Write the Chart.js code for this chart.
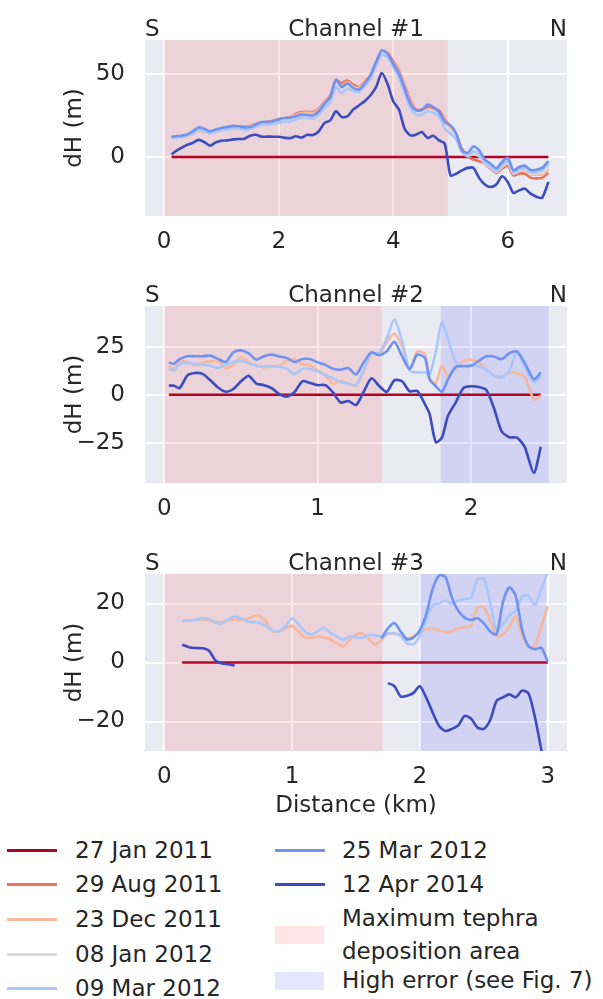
<!DOCTYPE html>
<html>
<head>
<meta charset="utf-8">
<script src="https://cdn.jsdelivr.net/npm/chart.js@4.4.1/dist/chart.umd.min.js"></script>
<style>
  body { margin: 0; background: #fff; width: 603px; height: 999px; overflow: hidden; position: relative;
         font-family: 'DejaVu Sans', sans-serif; color: #262626; }
  .panel { position: absolute; left: 0; }
  .lg-text { position: absolute; font-size: 23px; line-height: 33px; white-space: nowrap; }
  .lg-line { position: absolute; height: 3px; width: 50px; }
  .lg-patch { position: absolute; height: 18px; width: 49px; }
</style>
</head>
<body>
<canvas class="panel" id="ch1" width="603" height="260" style="top:0px"></canvas>
<canvas class="panel" id="ch2" width="603" height="261" style="top:266px"></canvas>
<canvas class="panel" id="ch3" width="603" height="300" style="top:534px"></canvas>
<div id="legend"></div>
<script>
const labels = ['27 Jan 2011', '29 Aug 2011', '23 Dec 2011', '08 Jan 2012', '09 Mar 2012', '25 Mar 2012', '12 Apr 2014'];
const colors = ['#b40426', '#e7745b', '#f7b89c', '#dddcdc', '#aac7fd', '#6f92f3', '#3b4cc0'];

// Channel #1 (distance in km, dH in m)
const distCh1 = [0.13, 0.2, 0.3, 0.4, 0.5, 0.6, 0.7, 0.8, 0.9, 1.0,
  1.1, 1.2, 1.3, 1.4, 1.5, 1.6, 1.7, 1.8, 1.9, 2.0,
  2.1, 2.2, 2.3, 2.4, 2.5, 2.6, 2.7, 2.8, 2.9, 3.0,
  3.1, 3.2, 3.3, 3.4, 3.5, 3.6, 3.7, 3.8, 3.9, 4.0,
  4.1, 4.2, 4.3, 4.4, 4.5, 4.6, 4.7, 4.8, 4.9, 5.0,
  5.1, 5.2, 5.3, 5.4, 5.5, 5.6, 5.7, 5.8, 5.9, 6.0,
  6.1, 6.2, 6.3, 6.4, 6.5, 6.6, 6.71];
const refDistCh1 = [0.13, 6.71];
const refCh1 = [0, 0];
const aug2011Ch1 = [11.8, 12.2, 12.5, 12.8, 14, 15.8, 15.3, 15, 15.8, 16.8,
  17.3, 18, 18.3, 18.3, 18.8, 19.8, 20.8, 21.2, 21.8, 22.8,
  23.3, 24, 26, 27, 27.2, 27, 29, 33, 37, 46,
  44.5, 46, 43.5, 42, 45, 49, 56.5, 63.5, 62.5, 57.5,
  51.5, 43, 34, 28.5, 28.5, 30, 29.5, 28, 22.5, 18.5,
  13.5, 5, 0.5, -1.5, -2.5, -4, -7, -9.5, -7, -5.5,
  -11, -10, -10, -12.5, -12.8, -12.5, -9.5];
const dec2011Ch1 = [11.5, 12, 12.3, 12.6, 13.5, 15.3, 15, 14.8, 15.5, 16.5,
  17, 17.8, 18, 18, 18.5, 19.5, 20.5, 21, 21.5, 22.5,
  23, 23.5, 25.5, 26.5, 26.8, 26.5, 28.5, 32.5, 36.5, 45.5,
  43, 45, 42.5, 41.5, 44.5, 48.5, 56, 63, 61.5, 56.5,
  50.5, 42, 33, 27.5, 27, 28.5, 28, 26.5, 21.5, 17.5,
  12.5, 4, 1, 1.5, 0.5, -4, -6.5, -9, -6, -4,
  -10, -8.5, -8, -10.5, -10.5, -10.5, -7];
const jan2012Ch1 = [11.4, 11.9, 12.2, 12.7, 14, 15.8, 15.3, 14.5, 15.3, 16.3,
  16.8, 17.5, 17.5, 17.3, 17.7, 19, 20, 20.3, 20.8, 21.7,
  22.3, 22.5, 24.2, 25.3, 25.5, 25, 27, 31, 35, 44,
  41, 43, 41, 40.2, 43.5, 47.8, 55.3, 62.3, 60.8, 55.3,
  49, 40.2, 31.2, 26.5, 26.3, 28, 27.2, 25.5, 19.2, 15.8,
  11.5, 3.5, 0.8, 2.5, 1, -3.8, -6.3, -8.8, -5.5, -3.3,
  -9.8, -8, -7.4, -10, -9.8, -9.3, -5.5];
const mar09Ch1 = [11.3, 11.8, 12, 12.8, 14.3, 16.3, 15.5, 14.2, 15.2, 16,
  16.5, 17.2, 17, 16.5, 16.8, 18.3, 19.5, 19.5, 20, 20.8,
  21.5, 21.3, 22.5, 23.8, 23.5, 23, 25.5, 29.5, 33, 42,
  38.5, 41, 39.5, 39, 42.5, 47, 54.5, 61.5, 60, 54,
  47.5, 38.5, 29.5, 25.5, 25.5, 27.5, 26.5, 24.5, 17, 14,
  10.5, 3, 0.5, 3.5, 1.5, -3.5, -6, -8.5, -5, -2.5,
  -9.5, -7.5, -6.8, -9.3, -9, -8, -4];
const mar25Ch1 = [12.2, 12.5, 12.8, 13.5, 15.5, 17.8, 17, 15.5, 16.5, 17.5,
  18, 18.7, 18.5, 17.8, 18, 19.5, 21, 21, 21.5, 22.5,
  23.5, 23.5, 24.5, 25.5, 25.3, 25, 27.5, 32, 36, 46.5,
  42, 44.3, 41.5, 40.5, 44, 49, 57, 64, 62, 56,
  50, 41, 32, 28, 28.3, 31.5, 30, 27, 21, 19,
  14, 4, 2.5, 6.3, 4, -1.5, -4, -6.8, -3, -0.5,
  -8, -6, -5.2, -7.8, -7.6, -6.5, -2.4];
const apr2014Ch1 = [1.6, 3.5, 5.5, 7.3, 8.5, 10.3, 9, 6.8, 8.8, 9.8,
  10, 10.6, 10.8, 11, 12.8, 13.4, 12.2, 12.3, 12.2, 12.2,
  11.6, 11.3, 12.5, 11.7, 13.4, 13.2, 15.5, 20.5, 22, 27.5,
  24, 24.5, 28.5, 31, 33.5, 37, 42, 50.5, 44, 33.5,
  28.5, 17, 13, 13.5, 15, 11.5, 12.8, 10, 8, -11,
  -10, -8, -6.5, -6.5, -12.5, -16.5, -18, -16.5, -11.5, -15,
  -21.5, -20, -19, -22, -23.8, -24.5, -14.9];

// Channel #2
const distCh2 = [0.03, 0.06, 0.1, 0.15, 0.2, 0.25, 0.3, 0.35, 0.4, 0.45,
  0.5, 0.55, 0.6, 0.65, 0.7, 0.75, 0.8, 0.85, 0.9, 0.95,
  1.0, 1.05, 1.1, 1.15, 1.2, 1.25, 1.3, 1.35, 1.4, 1.45,
  1.5, 1.55, 1.6, 1.65, 1.7, 1.73, 1.77, 1.81, 1.85, 1.9,
  1.95, 2.0, 2.05, 2.1, 2.15, 2.2, 2.25, 2.3, 2.35, 2.41,
  2.455];
const refDistCh2 = [0.03, 2.455];
const refCh2 = [0, 0];
const dec2011Ch2 = [15, 13.4, 17, 17, 15.2, 16.5, 17.3, 17.5, 14, 15.5,
  19.4, 17, 15.4, 14.2, 14.9, 15.1, 17.5, 18.5, 15.8, 15.3,
  12.5, 10, 5.6, 7.2, 5.5, 4.8, 12, 22, 20.5, 27.2,
  31.6, 25, 13.4, 22.5, 21, 9, 6, 15.1, 9.9, 13.5,
  17.5, 18.2, 16.8, 13, 10, 9.5, 11.5, 11.2, 9.5, -2.5,
  -0.5];
const mar09Ch2 = [13.7, 12.5, 16, 16.5, 16, 15.7, 15, 14, 15.5, 16.8,
  17.7, 16.3, 15, 14.6, 14.8, 14.5, 13.4, 10.8, 13.4, 13.4,
  12, 10.3, 8.5, 6.6, 5.7, 5, 13, 21.5, 21.5, 29,
  39, 28, 12.5, 11.6, 11.5, 10.5, 22, 37.5, 29, 17,
  15.2, 15.1, 14.8, 13, 9.9, 9, 12.5, 22, 14.5, 6.5,
  10];
const mar25Ch2 = [16.8, 16, 18.5, 20, 20, 20, 20.3, 18.6, 17, 22,
  23, 21.5, 18.2, 20, 20.8, 19.8, 19, 17, 18.5, 18.5,
  16.8, 15.5, 13.5, 13, 13.8, 10.5, 16.8, 22, 20.5, 22.5,
  27.5, 20, 13.4, 20.8, 19, 8, 4.5, 1.6, 8, 14.5,
  14.8, 15, 17.5, 20, 19.8, 18.5, 21.5, 22.4, 16.5, 8,
  11.6];
const apr2014Ch2 = [4.7, 4.8, 3.5, 10, 11.3, 10.8, 7.5, 3.8, 1.6, 3,
  7, 9.8, 5.8, 5, 3.5, 0.3, -0.9, 1.5, 7, 6.1,
  5, 5, 1.2, -4, -3.2, -5.3, 1.5, 8.5, 4.7, 1.5,
  7.5, 7, 1.8, 2, -5, -10, -24.5, -22.2, -10.9, -4,
  3.5, 4.4, 4, 2.5, -7, -19, -22, -22.2, -27, -40.5,
  -26.9];

// Channel #3
const distCh3 = [0.14, 0.2, 0.25, 0.3, 0.35, 0.4, 0.45, 0.5, 0.55, 0.6,
  0.65, 0.7, 0.75, 0.8, 0.85, 0.9, 0.95, 1.0, 1.05, 1.1,
  1.15, 1.2, 1.25, 1.3, 1.35, 1.4, 1.45, 1.5, 1.55, 1.6,
  1.65, 1.7, 1.75, 1.8, 1.85, 1.9, 1.95, 2.0, 2.05, 2.1,
  2.15, 2.2, 2.25, 2.3, 2.35, 2.4, 2.45, 2.5, 2.55, 2.6,
  2.65, 2.7, 2.75, 2.8, 2.85, 2.9, 2.95, 3.0];
const refDistCh3 = [0.14, 3.0];
const refCh3 = [0, 0];
const dec2011Ch3 = [14.2, 14.3, 14.5, 14.6, 14.4, 13.8, 13.6, 14.3, 14.5, 14.5,
  14.8, 15.7, 15.6, 13.5, 10.5, 10.6, 11.8, 12.4, 10.5, 8.5,
  8.4, 8.8, 8.5, 7.8, 6.5, 5.5, 7.7, 9.5, 9.8, 8.2,
  6, 7.7, 9.8, 9.8, 9.3, 8.2, 8.8, 10.3, 11.3, 11.5,
  10.8, 10.3, 10.6, 11.5, 12, 12.5, 18.5, 18.8, 14, 9,
  9.5, 12, 15.6, 9, 5.5, 5.5, 12.5, 19];
const mar09Ch3 = [14.2, 14.2, 14.5, 15, 14.8, 13.5, 13.2, 14.6, 15.6, 15,
  13.9, 13.7, 13.4, 12.2, 10.8, 10.6, 12.5, 15, 13, 10.5,
  9.5, 10.6, 11.8, 10, 8.8, 7.7, 8.8, 8.5, 8.4, 9.3,
  9.2, 8.8, 9.8, 9.8, 9, 6.5, 6.2, 9, 14.5, 19.5,
  20.1, 21, 20, 21, 21.5, 22, 28, 28.5, 20.1, 11,
  13, 16, 17.5, 22.5, 22.5, 19.5, 25, 30.5];
const mar25Ch3 = [null, null, null, null, null, null, null, null, null, null,
  null, null, null, null, null, null, null, null, null, null,
  null, null, null, null, null, null, null, null, null, null,
  null, 8.2, 11.6, 13.4, 10.5, 7.8, 8.5, 11, 16.5, 25,
  29.5, 29, 22, 17.5, 15.2, 14.4, 15, 13.3, 10.5, 9.5,
  20.5, 25.5, 22.5, 11, 5.5, 4.5, 5, 0.3];
const apr2014Ch3 = [6, 5.1, 4.9, 4.8, 4, 0.7, -0.3, -0.6, -1, null,
  null, null, null, null, null, null, null, null, null, null,
  null, null, null, null, null, null, null, null, null, null,
  null, null, -7, -8, -11.5, -11.3, -10.3, -8, -12, -17,
  -21.5, -23.2, -22.5, -21.3, -18.1, -19, -22, -22.5, -19.5, -13,
  -11.8, -10.8, -11.8, -9.5, -10.5, -18.5, -29.6, -40];

// shaded areas [from, to] in km
const tephraCh1 = [0, 4.95];
const tephraCh2 = [0, 1.418];
const tephraCh3 = [0, 1.706];
const highErrCh2 = [1.803, 2.507];
const highErrCh3 = [2.0, 2.99];

// axis limits and ticks
const xLimCh1 = [-0.335, 7.035], yLimCh1 = [-35.4, 70.3];
const xLimCh2 = [-0.126, 2.626], yLimCh2 = [-45.7, 46];
const xLimCh3 = [-0.151, 3.151], yLimCh3 = [-30, 30];
const xTicksCh1 = [0, 2, 4, 6], yTicksCh1 = [0, 50];
const xTicksCh2 = [0, 1, 2], yTicksCh2 = [-25, 0, 25];
const xTicksCh3 = [0, 1, 2, 3], yTicksCh3 = [-20, 0, 20];

const TEPHRA = 'rgba(255, 0, 0, 0.1)';
const HIGH_ERR = 'rgba(0, 0, 255, 0.1)';
const FONT = { family: "'DejaVu Sans', sans-serif", size: 23 };
const INK = '#262626';

Chart.defaults.font.family = FONT.family;
Chart.defaults.color = INK;

function series(k, xs, ys) {
  return {
    label: labels[k],
    data: xs.map((x, i) => ({ x: x, y: ys[i] })),
    borderColor: colors[k],
    backgroundColor: colors[k],
    borderWidth: 2.6,
    pointRadius: 0,
    fill: false,
    spanGaps: false,
    tension: 0.25,
    order: 10 - k
  };
}

const minus = v => (v < 0 ? '\u2212' + Math.abs(v) : String(v));

// background, shaded spans and the S / title / N line above each panel
const panelDecor = {
  id: 'panelDecor',
  beforeDraw(chart) {
    const a = chart.chartArea, ctx = chart.ctx;
    ctx.save();
    ctx.fillStyle = '#eaeaf2';
    ctx.fillRect(a.left, a.top, a.right - a.left, a.bottom - a.top);
    ctx.restore();
  },
  beforeDatasetsDraw(chart, args, opts) {
    const a = chart.chartArea, ctx = chart.ctx, xs = chart.scales.x;
    ctx.save();
    opts.spans.forEach(s => {
      const x0 = xs.getPixelForValue(s.range[0]);
      const x1 = xs.getPixelForValue(s.range[1]);
      ctx.fillStyle = s.color;
      ctx.fillRect(x0, a.top, x1 - x0, a.bottom - a.top);
    });
    ctx.restore();
  },
  afterDraw(chart, args, opts) {
    const a = chart.chartArea, ctx = chart.ctx;
    const y = a.top - 4.5;
    ctx.save();
    ctx.font = FONT.size + 'px ' + FONT.family;
    ctx.fillStyle = INK;
    ctx.textBaseline = 'alphabetic';
    ctx.textAlign = 'left';
    ctx.fillText('S', a.left, y);
    ctx.textAlign = 'center';
    ctx.fillText(opts.title, (a.left + a.right) / 2, y);
    ctx.textAlign = 'right';
    ctx.fillText('N', a.right, y);
    ctx.restore();
  }
};

function makePanel(id, p) {
  return new Chart(document.getElementById(id), {
    type: 'line',
    data: { datasets: p.datasets },
    options: {
      responsive: false,
      animation: false,
      layout: { padding: { top: 40, right: 36, left: 0, bottom: 0 } },
      plugins: {
        legend: { display: false },
        tooltip: { enabled: false },
        panelDecor: { title: p.title, spans: p.spans }
      },
      scales: {
        x: {
          type: 'linear',
          min: p.xLim[0], max: p.xLim[1],
          afterBuildTicks: s => { s.ticks = p.xTicks.map(v => ({ value: v })); },
          afterFit: s => { s.height = p.xAxisH; },
          ticks: { font: FONT, color: INK, padding: 12, maxRotation: 0, callback: minus },
          grid: { color: '#ffffff', lineWidth: 2, drawTicks: false },
          border: { display: false },
          title: {
            display: !!p.xTitle, text: p.xTitle || '', font: FONT, color: INK,
            padding: { top: 0, bottom: 14 }
          }
        },
        y: {
          type: 'linear',
          min: p.yLim[0], max: p.yLim[1],
          afterBuildTicks: s => { s.ticks = p.yTicks.map(v => ({ value: v })); },
          afterFit: s => { s.width = 145; },
          ticks: { font: FONT, color: INK, padding: 20, callback: minus },
          grid: { color: '#ffffff', lineWidth: 2, drawTicks: false },
          border: { display: false },
          title: {
            display: true, text: 'dH (m)', font: FONT, color: INK,
            padding: { top: 61, bottom: 0 }
          }
        }
      }
    },
    plugins: [panelDecor]
  });
}

makePanel('ch1', {
  title: 'Channel #1',
  xLim: xLimCh1, yLim: yLimCh1, xTicks: xTicksCh1, yTicks: yTicksCh1, xAxisH: 44,
  spans: [{ range: tephraCh1, color: TEPHRA }],
  datasets: [
    series(0, refDistCh1, refCh1),
    series(1, distCh1, aug2011Ch1),
    series(2, distCh1, dec2011Ch1),
    series(3, distCh1, jan2012Ch1),
    series(4, distCh1, mar09Ch1),
    series(5, distCh1, mar25Ch1),
    series(6, distCh1, apr2014Ch1)
  ]
});

makePanel('ch2', {
  title: 'Channel #2',
  xLim: xLimCh2, yLim: yLimCh2, xTicks: xTicksCh2, yTicks: yTicksCh2, xAxisH: 44,
  spans: [{ range: tephraCh2, color: TEPHRA }, { range: highErrCh2, color: HIGH_ERR }],
  datasets: [
    series(0, refDistCh2, refCh2),
    series(2, distCh2, dec2011Ch2),
    series(4, distCh2, mar09Ch2),
    series(5, distCh2, mar25Ch2),
    series(6, distCh2, apr2014Ch2)
  ]
});

makePanel('ch3', {
  title: 'Channel #3',
  xLim: xLimCh3, yLim: yLimCh3, xTicks: xTicksCh3, yTicks: yTicksCh3, xAxisH: 83,
  xTitle: 'Distance (km)',
  spans: [{ range: tephraCh3, color: TEPHRA }, { range: highErrCh3, color: HIGH_ERR }],
  datasets: [
    series(0, refDistCh3, refCh3),
    series(2, distCh3, dec2011Ch3),
    series(4, distCh3, mar09Ch3),
    series(5, distCh3, mar25Ch3),
    series(6, distCh3, apr2014Ch3)
  ]
});

// legend: five dates in the first column, two dates and the two shaded areas in the second
const legend = document.getElementById('legend');
const rowY = [850, 884, 919, 954, 988];
function addLine(x, y, color) {
  const d = document.createElement('div');
  d.className = 'lg-line';
  d.style.left = x + 'px';
  d.style.top = (y - 1.5) + 'px';
  d.style.background = color;
  legend.appendChild(d);
}
function addPatch(x, y, color) {
  const d = document.createElement('div');
  d.className = 'lg-patch';
  d.style.left = x + 'px';
  d.style.top = (y - 9) + 'px';
  d.style.background = color;
  legend.appendChild(d);
}
function addText(x, yTop, html) {
  const d = document.createElement('div');
  d.className = 'lg-text';
  d.style.left = x + 'px';
  d.style.top = yTop + 'px';
  d.innerHTML = html;
  legend.appendChild(d);
}
labels.forEach((lab, k) => {
  if (k < 5) {
    addLine(7, rowY[k], colors[k]);
    addText(75, rowY[k] - 16.5, lab);
  } else {
    addLine(275, rowY[k - 5], colors[k]);
    addText(342, rowY[k - 5] - 16.5, lab);
  }
});
addPatch(275, 935, TEPHRA);
addText(342, 935 - 33, 'Maximum tephra<br>deposition area');
addPatch(275, 981, HIGH_ERR);
addText(342, 980 - 16.5, 'High error (see Fig. 7)');
</script>
</body>
</html>
